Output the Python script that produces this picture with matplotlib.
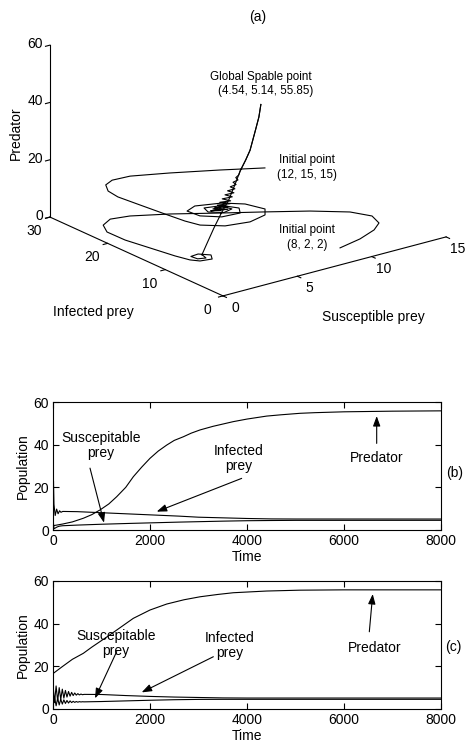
import numpy as np
import matplotlib
matplotlib.use("Agg")
import matplotlib.pyplot as plt
from mpl_toolkits.mplot3d import proj3d

plt.rcParams['font.family'] = ['Liberation Sans', 'DejaVu Sans']

# ---------------- data: 3D trajectories (Susceptible, Infected, Predator) ----------------
trajA_S = [9.72, 7.58, 5.15, 3.14, 1.97, 1.23, 0.73, 0.57, 0.73, 0.92, 1.09, 1.33,
           2.29, 3.70, 4.96, 5.49, 5.08, 4.16, 2.70, 1.87, 1.94, 2.75, 3.87, 4.26,
           3.74, 2.72, 2.49, 3.10, 3.74, 3.52, 2.87, 3.07,
           2.34, 3.07, 2.50, 3.09, 2.62, 3.16, 2.72, 3.18, 2.82, 3.25, 2.94, 3.32,
           3.05, 3.36, 3.16, 3.41, 3.28, 3.49, 3.40, 3.53,
           3.60, 3.85, 4.05, 4.30, 4.45, 4.54]
trajA_I = [17.8, 20.1, 22.5, 24.2, 24.3, 23.5, 21.8, 19.7, 16.3, 12.5, 9.4, 7.4,
           5.54, 4.85, 5.5, 6.87, 9.27, 10.9, 11.85, 11.05, 9.0, 7.3, 7.0, 8.2,
           9.8, 10.3, 9.0, 7.8, 8.1, 9.3, 9.15, 8.24,
           8.16, 7.08, 7.91, 7.01, 7.72, 6.91, 7.56, 6.87, 7.40, 6.77, 7.23, 6.67,
           7.07, 6.60, 6.89, 6.52, 6.71, 6.40, 6.55, 6.37,
           6.30, 6.00, 5.75, 5.45, 5.25, 5.14]
trajA_P = [15.0, 15.1, 15.2, 15.3, 15.4, 15.5, 15.6, 15.7, 15.8, 15.9, 16.0, 16.1,
           16.2, 16.3, 16.4, 16.5, 16.6, 16.7, 16.8, 16.9, 17.0, 17.1, 17.2, 17.3,
           17.4, 17.5, 17.6, 17.7, 17.8, 17.9, 18.0, 18.2,
           19.0, 19.5, 20.0, 20.5, 21.0, 21.5, 22.0, 22.5, 23.2, 23.9, 24.6, 25.3,
           26.0, 26.7, 27.4, 28.2, 29.0, 29.8, 30.6, 31.5,
           32.9, 36.6, 40.0, 47.0, 51.5, 55.85]

trajB_S = [8.93, 10.59, 12.0, 12.83, 13.16, 12.57, 10.93, 8.9, 6.87, 4.62, 2.7, 1.57,
           0.71, 0.23, 0.25, 0.57, 0.89, 1.15, 1.48, 2.18, 2.51, 2.05, 1.49, 1.55,
           1.96, 2.04,
           1.95, 2.2, 2.5, 2.8, 3.1, 3.35, 3.6, 3.85, 4.05, 4.3, 4.45, 4.54]
trajB_I = [2.73, 3.55, 4.75, 6.04, 8.1, 10.4, 13.1, 15.7, 18.2, 21.1, 23.1, 23.6,
           22.6, 20.7, 17.6, 14.1, 10.6, 8.7, 7.8, 7.5, 8.55, 9.6, 9.4, 8.4,
           8.0, 8.7,
           8.7, 8.4, 8.0, 7.5, 7.0, 6.6, 6.3, 6.0, 5.75, 5.45, 5.25, 5.14]
trajB_P = [2.0, 2.1, 2.2, 2.3, 2.4, 2.5, 2.6, 2.7, 2.8, 2.9, 3.0, 3.0,
           3.0, 3.0, 3.0, 3.0, 3.0, 3.0, 3.0, 3.0, 3.0, 3.0, 3.1, 3.1,
           3.2, 3.3,
           3.6, 7.8, 13.0, 18.2, 22.8, 28.0, 32.9, 36.6, 40.0, 47.0, 51.5, 55.85]

s_ticks = [0, 5, 10, 15]
i_ticks = [0, 10, 20, 30]
p_ticks = [0, 20, 40, 60]

# ---------------- data: time series (b) ----------------
t_b_pred = [0, 200, 400, 625, 800, 969, 1150, 1313, 1500, 1657, 1830, 2000, 2170, 2344,
            2500, 2687, 2850, 3031, 3300, 3718, 4000, 4406, 4700, 5093, 5400, 6000, 7000, 8000]
pred_b = [2.0, 2.8, 3.8, 5.5, 7.2, 9.4, 12.2, 15.6, 20.0, 25.0, 29.5, 33.6, 37.0, 39.8,
          42.0, 43.7, 45.4, 46.9, 48.6, 50.8, 52.0, 53.4, 54.0, 54.7, 55.0, 55.4, 55.7, 55.85]
t_b_prey = [0, 10, 20, 45, 75, 105, 135, 165, 200, 500, 1000, 1600, 2100, 2600,
            3000, 3500, 4000, 4500, 5000, 8000]
inf_b = [2.7, 23.0, 12.0, 6.8, 9.8, 7.6, 9.0, 8.3, 8.7, 8.6, 8.1, 7.5, 7.0, 6.5,
         6.0, 5.7, 5.4, 5.2, 5.15, 5.14]
sus_b = [8.9, 3.0, 0.6, 0.9, 1.3, 1.6, 1.8, 1.9, 2.0, 2.3, 2.7, 3.1, 3.4, 3.7,
         3.9, 4.15, 4.35, 4.45, 4.52, 4.54]

# ---------------- data: time series (c) ----------------
t_c_pred = [0, 200, 400, 625, 800, 969, 1150, 1313, 1500, 1656, 2000, 2344, 2700, 3031,
            3400, 3718, 4406, 5093, 6000, 8000]
pred_c = [16.6, 20.0, 23.3, 26.1, 29.0, 31.6, 34.4, 37.0, 40.0, 42.5, 46.4, 49.2, 51.2, 52.6,
          53.7, 54.5, 55.3, 55.7, 55.85, 55.85]
t_c_prey = [0, 32, 64, 96, 128, 160, 192, 224, 256, 288, 320, 352, 384, 416, 448, 480,
            512, 544, 576, 608, 640, 1000, 1500, 2000, 2500, 3000, 3500, 4000, 5000, 8000]
inf_c = [11.5, 3.0, 10.8, 3.8, 10.0, 4.5, 9.3, 5.1, 8.7, 5.6, 8.2, 6.0, 7.8, 6.3, 7.5, 6.5,
         7.2, 6.6, 7.0, 6.7, 6.85, 6.8, 6.3, 5.9, 5.6, 5.4, 5.2, 5.14, 5.14, 5.14]
sus_c = [1.0, 5.5, 1.5, 5.0, 1.9, 4.6, 2.3, 4.3, 2.6, 4.0, 2.8, 3.8, 3.0, 3.6, 3.1, 3.5,
         3.2, 3.45, 3.3, 3.4, 3.35, 3.5, 3.8, 4.1, 4.35, 4.5, 4.54, 4.54, 4.54, 4.54]

time_ticks = [0, 2000, 4000, 6000, 8000]
pop_ticks = [0, 20, 40, 60]

# ---------------- figure ----------------
FW, FH = 467, 744
fig = plt.figure(figsize=(FW / 100, FH / 100), dpi=100)
LW = 0.8

def fx(px):
    return px / FW

def fy(py):
    return 1 - py / FH

# ---- 3D panel ----
ax3 = fig.add_axes([0.0, 0.55, 1.0, 0.45], projection='3d', proj_type='ortho')
ax3.set_xlim(0, 15)
ax3.set_ylim(0, 30)
ax3.set_zlim(0, 60)
ax3.set_box_aspect((280, 285, 183))
ax3.view_init(elev=20.3, azim=-127.3)
ax3.set_axis_off()
ax3.patch.set_visible(False)

ax3.plot(trajA_S, trajA_I, trajA_P, color='k', lw=LW, clip_on=False)
ax3.plot(trajB_S, trajB_I, trajB_P, color='k', lw=LW, clip_on=False)

# axis lines and ticks (MATLAB style box-off 3D axes)
ax3.plot([0, 15], [0, 0], [0, 0], color='k', lw=LW, clip_on=False)
ax3.plot([0, 0], [0, 30], [0, 0], color='k', lw=LW, clip_on=False)
ax3.plot([0, 0], [30, 30], [0, 60], color='k', lw=LW, clip_on=False)
for v in s_ticks:
    ax3.plot([v, v], [0, -0.6], [0, 0], color='k', lw=LW, clip_on=False)
for v in i_ticks:
    ax3.plot([0, -0.3], [v, v], [0, 0], color='k', lw=LW, clip_on=False)
for v in p_ticks:
    ax3.plot([0, -0.3], [30, 30], [v, v], color='k', lw=LW, clip_on=False)

# fit 3D axes so that the box corners land where they are in the reference
fig.canvas.draw()

def proj2d(x, y, z):
    X, Y, _ = proj3d.proj_transform(np.atleast_1d(x), np.atleast_1d(y),
                                    np.atleast_1d(z), ax3.get_proj())
    return float(X[0]), float(Y[0])

corners = [(0, 0, 0), (15, 0, 0), (0, 30, 0), (0, 30, 60)]
targets = np.array([(223, FH - 296), (446, FH - 237), (50, FH - 217), (50, FH - 45)], float)
cur = np.array([ax3.transData.transform(proj2d(*c)) for c in corners])
Pm, Tm = cur.mean(0), targets.mean(0)
s = ((cur - Pm) * (targets - Tm)).sum() / ((cur - Pm) ** 2).sum()
bb = ax3.bbox
c = np.array([(bb.x0 + bb.x1) / 2, (bb.y0 + bb.y1) / 2])
newc = Tm + s * (c - Pm)
w, h = bb.width * s, bb.height * s
ax3.set_position([(newc[0] - w / 2) / FW, (newc[1] - h / 2) / FH, w / FW, h / FH])

# tick labels
for v in s_ticks:
    ax3.annotate(str(v), xy=proj2d(v, 0, 0), xycoords='data', xytext=(12, -12),
                 textcoords='offset pixels', ha='center', va='center', fontsize=10,
                 annotation_clip=False)
for v in i_ticks:
    ax3.annotate(str(v), xy=proj2d(0, v, 0), xycoords='data', xytext=(-16, -14),
                 textcoords='offset pixels', ha='center', va='center', fontsize=10,
                 annotation_clip=False)
for v in p_ticks:
    ax3.annotate(str(v), xy=proj2d(0, 30, v), xycoords='data', xytext=(-7, 1),
                 textcoords='offset pixels', ha='right', va='center', fontsize=10,
                 annotation_clip=False)

fig.text(fx(258), fy(17), '(a)', ha='center', va='center', fontsize=10)
fig.text(fx(16), fy(133), 'Predator', rotation=90, ha='center', va='center', fontsize=10)
fig.text(fx(93), fy(312), 'Infected prey', ha='center', va='center', fontsize=10)
fig.text(fx(373), fy(317), 'Susceptible prey', ha='center', va='center', fontsize=10)
fig.text(fx(261), fy(77), 'Global Spable point', ha='center', va='center', fontsize=8.4)
fig.text(fx(266), fy(91), '(4.54, 5.14, 55.85)', ha='center', va='center', fontsize=8.4)
fig.text(fx(307), fy(160), 'Initial point', ha='center', va='center', fontsize=8.4)
fig.text(fx(307), fy(175), '(12, 15, 15)', ha='center', va='center', fontsize=8.4)
fig.text(fx(307), fy(230), 'Initial point', ha='center', va='center', fontsize=8.4)
fig.text(fx(307), fy(245), '(8, 2, 2)', ha='center', va='center', fontsize=8.4)

# ---- time-series panels ----
arrow_kw = dict(arrowstyle='-|>,head_length=0.6,head_width=0.22', color='k', lw=LW,
                shrinkA=0, shrinkB=0, mutation_scale=10)

def style_ts(ax):
    ax.set_xlim(0, 8000)
    ax.set_ylim(0, 60)
    ax.set_xticks(time_ticks)
    ax.set_yticks(pop_ticks)
    ax.tick_params(direction='in', top=True, right=True, length=4, width=LW,
                   labelsize=10, pad=3)
    for sp in ax.spines.values():
        sp.set_linewidth(LW)
    ax.set_xlabel('Time', fontsize=10, labelpad=1)
    ax.set_ylabel('Population', fontsize=10)
    ax.yaxis.set_label_coords(-0.059, 0.5)

axb = fig.add_axes([fx(53), fy(530), fx(441) - fx(53), fy(402) - fy(530)])
axb.plot(t_b_pred, pred_b, color='k', lw=LW)
axb.plot(t_b_prey, inf_b, color='k', lw=LW)
axb.plot(t_b_prey, sus_b, color='k', lw=LW)
style_ts(axb)
axb.text(990, 39.8, 'Suscepitable\nprey', ha='center', va='center', fontsize=10, linespacing=1.1)
axb.text(3835, 33.5, 'Infected\nprey', ha='center', va='center', fontsize=10, linespacing=1.1)
axb.text(6680, 33.8, 'Predator', ha='center', va='center', fontsize=10)
axb.annotate('', xy=(1052, 3.4), xytext=(763, 29), arrowprops=arrow_kw)
axb.annotate('', xy=(2138, 8.6), xytext=(3890, 24.2), arrowprops=arrow_kw)
axb.annotate('', xy=(6674, 53.4), xytext=(6674, 40.6), arrowprops=arrow_kw)
fig.text(fx(455), fy(473), '(b)', ha='center', va='center', fontsize=10)

axc = fig.add_axes([fx(53), fy(709), fx(441) - fx(53), fy(581) - fy(709)])
axc.plot(t_c_pred, pred_c, color='k', lw=LW)
axc.plot(t_c_prey, inf_c, color='k', lw=LW)
axc.plot(t_c_prey, sus_c, color='k', lw=LW)
style_ts(axc)
axc.text(1299, 30.5, 'Suscepitable\nprey', ha='center', va='center', fontsize=10, linespacing=1.1)
axc.text(3650, 29.7, 'Infected\nprey', ha='center', va='center', fontsize=10, linespacing=1.1)
axc.text(6640, 28.5, 'Predator', ha='center', va='center', fontsize=10)
axc.annotate('', xy=(866, 5.0), xytext=(1313, 26.9), arrowprops=arrow_kw)
axc.annotate('', xy=(1828, 7.8), xytext=(3306, 24.5), arrowprops=arrow_kw)
axc.annotate('', xy=(6592, 53.9), xytext=(6522, 36.2), arrowprops=arrow_kw)
fig.text(fx(453), fy(647), '(c)', ha='center', va='center', fontsize=10)

fig.savefig('out.png', dpi=100)
